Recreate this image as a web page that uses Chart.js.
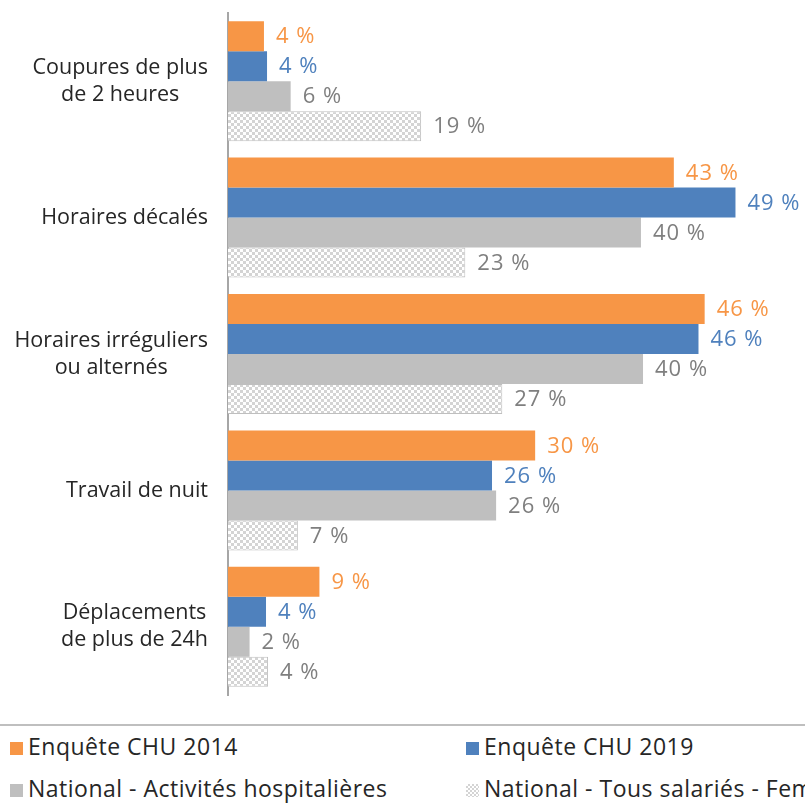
<!DOCTYPE html>
<html>
<head>
<meta charset="utf-8">
<script src="https://cdn.jsdelivr.net/npm/chart.js@4"></script>
<style>
  body { margin: 0; width: 805px; height: 807px; overflow: hidden; background: #fff; font-family: "Open Sans", sans-serif; }
  #wrap { position: relative; width: 805px; height: 714px; }
  #legend { position: absolute; top: 724px; left: 0; width: 805px; height: 83px; border-top: 2px solid #BFBFBF; overflow: hidden; white-space: nowrap; }
  .item { position: absolute; font-size: 23px; color: #262626; letter-spacing: 0.5px; }
  .box { display: inline-block; width: 13px; height: 13px; margin-right: 5px; vertical-align: 0px; }
</style>
</head>
<body>
<div id="wrap"><canvas id="chart"></canvas></div>
<div id="legend"></div>
<script>
const categories = [
    ['Coupures de plus', 'de 2 heures'],
    ['Horaires décalés'],
    ['Horaires irréguliers', 'ou alternés'],
    ['Travail de nuit'],
    ['Déplacements', 'de plus de 24h']
];
const seriesNames = ['Enquête CHU 2014', 'Enquête CHU 2019', 'National - Activités hospitalières', 'National - Tous salariés - Femmes'];
// bar lengths (labels show the rounded value)
const chu2014 = [3.5, 43.4, 46.4, 29.9, 8.9];
const chu2019 = [3.8, 49.4, 45.8, 25.7, 3.7];
const nationalHosp = [6.1, 40.2, 40.4, 26.1, 2.1];
const nationalAll = [18.8, 23.1, 26.7, 6.8, 3.9];

const orange = '#F79646';
const blue = '#4F81BD';
const gray = '#BFBFBF';

//checkerboard pattern for the last series
function makePattern() {
    const c = document.createElement('canvas');
    c.width = 6; c.height = 6;
    const g = c.getContext('2d');
    g.fillStyle = '#ffffff';
    g.fillRect(0, 0, 6, 6);
    g.fillStyle = '#D4D4D4';
    g.fillRect(0, 0, 3, 3);
    g.fillRect(3, 3, 3, 3);
    return g.createPattern(c, 'repeat');
}
const pattern = makePattern();

const labelColors = [orange, blue, '#7F7F7F', '#7F7F7F'];

const valueLabels = {
    id: 'valueLabels',
    afterDatasetsDraw(chart) {
        const ctx = chart.ctx;
        ctx.save();
        ctx.font = '22px "Open Sans", sans-serif';
        if ('letterSpacing' in ctx) ctx.letterSpacing = '1px';
        ctx.textBaseline = 'middle';
        ctx.textAlign = 'left';
        chart.data.datasets.forEach((ds, i) => {
            const meta = chart.getDatasetMeta(i);
            ctx.fillStyle = labelColors[i];
            meta.data.forEach((bar, j) => {
                ctx.fillText(Math.round(ds.data[j]) + ' %', bar.x + 12, bar.y + 1);
            });
        });
        ctx.restore();
    }
};

// category names: block right aligned against the axis, lines centred in the block
const categoryLabels = {
    id: 'categoryLabels',
    afterDraw(chart) {
        const ctx = chart.ctx;
        const y = chart.scales.y;
        const lineH = 27;
        ctx.save();
        ctx.font = '21.5px "Open Sans", sans-serif';
        ctx.fillStyle = '#262626';
        ctx.textAlign = 'center';
        ctx.textBaseline = 'middle';
        categories.forEach((lines, i) => {
            const w = Math.max(...lines.map(l => ctx.measureText(l).width));
            const cx = 208 - w / 2;
            const cy = y.getPixelForTick(i) - (lines.length - 1) * lineH / 2;
            lines.forEach((l, k) => ctx.fillText(l, cx, cy + k * lineH));
        });
        ctx.restore();
    }
};

const ctx = document.getElementById('chart').getContext('2d');
new Chart(ctx, {
    type: 'bar',
    data: {
        labels: categories.map(c => c.join(' ')),
        datasets: [
            { label: seriesNames[0], data: chu2014, backgroundColor: orange },
            { label: seriesNames[1], data: chu2019, backgroundColor: blue },
            { label: seriesNames[2], data: nationalHosp, backgroundColor: gray },
            { label: seriesNames[3], data: nationalAll, backgroundColor: pattern, borderColor: '#BFBFBF', borderWidth: 1 }
        ]
    },
    options: {
        indexAxis: 'y',
        responsive: true,
        maintainAspectRatio: false,
        animation: false,
        layout: { padding: { left: 0, right: 12, top: 13, bottom: 19 } },
        datasets: { bar: { barPercentage: 1.0, categoryPercentage: 0.88 } },
        plugins: { legend: { display: false }, tooltip: { enabled: false } },
        scales: {
            x: { display: false, min: 0, max: 55 },
            y: {
                grid: { display: false },
                border: { display: true, color: '#A6A6A6', width: 2 },
                ticks: { display: false },
                afterFit(scale) {
                    scale.width = 228;
                    scale.paddingTop = 0;
                    scale.paddingBottom = 0;
                }
            }
        }
    },
    plugins: [valueLabels, categoryLabels]
});

//html legend, two columns, clipped on the right
const legend = document.getElementById('legend');
const swatches = [orange, blue, gray, null];
const pos = [[10, 4], [466, 4], [10, 46], [466, 46]];
seriesNames.forEach((name, i) => {
    const d = document.createElement('div');
    d.className = 'item';
    d.style.left = pos[i][0] + 'px';
    d.style.top = pos[i][1] + 'px';
    const b = document.createElement('span');
    b.className = 'box';
    if (swatches[i]) b.style.background = swatches[i];
    else b.style.background = 'repeating-conic-gradient(#D4D4D4 0% 25%, #fff 0% 50%) 0 0 / 4px 4px';
    d.appendChild(b);
    d.appendChild(document.createTextNode(name));
    legend.appendChild(d);
});
</script>
</body>
</html>
